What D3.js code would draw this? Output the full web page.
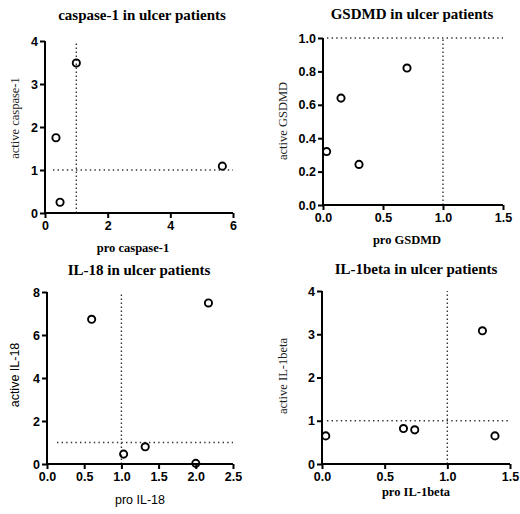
<!DOCTYPE html>
<html>
<head>
<meta charset="utf-8">
<script src="https://cdn.jsdelivr.net/npm/d3@7"></script>
<style>
    body { margin: 0; background: #fff; }
    .tick text { font-family: "Liberation Sans", Arial, sans-serif; font-weight: bold; font-size: 12.5px; fill: #000; }
</style>
</head>
<body>
<svg id="chart" width="520" height="514"></svg>
<script>

// Data (pro vs active levels)
var casProX = [0.35, 0.48, 1.0, 5.66];
var casActY = [1.75, 0.25, 3.49, 1.09];

var gsdmdProX = [0.03, 0.15, 0.30, 0.70];
var gsdmdActY = [0.32, 0.64, 0.243, 0.82];

var il18ProX = [0.60, 1.03, 1.32, 2.0, 2.17];
var il18ActY = [6.73, 0.46, 0.80, 0.03, 7.49];

var il1bProX = [0.03, 0.65, 0.74, 1.28, 1.38];
var il1bActY = [0.65, 0.82, 0.79, 3.08, 0.65];

var casXTicks = [0, 2, 4, 6], casYTicks = [0, 1, 2, 3, 4];
var gsdmdXTicks = [0, 0.5, 1.0, 1.5], gsdmdYTicks = [0, 0.2, 0.4, 0.6, 0.8, 1.0];
var il18XTicks = [0, 0.5, 1.0, 1.5, 2.0, 2.5], il18YTicks = [0, 2, 4, 6, 8];
var il1bXTicks = [0, 0.5, 1.0, 1.5], il1bYTicks = [0, 1, 2, 3, 4];

var titles = ["caspase-1 in ulcer patients", "GSDMD in ulcer patients",
              "IL-18 in ulcer patients", "IL-1beta in ulcer patients"];
var xLabels = ["pro caspase-1", "pro GSDMD", "pro IL-18", "pro IL-1beta"];
var yLabels = ["active caspase-1", "active GSDMD", "active IL-18", "active IL-1beta"];

var svg = d3.select("#chart");
var serif = "'Liberation Serif', 'Times New Roman', serif";
var sans = "'Liberation Sans', Arial, sans-serif";

function makePanel(p) {

    var x = d3.scaleLinear().domain(p.xDom).range([p.left, p.right]);
    var y = d3.scaleLinear().domain(p.yDom).range([p.bottom, p.top]);

    var g = svg.append("g");

    // Dotted reference lines at 1
    g.append("line")
        .attr("x1", x(1)).attr("x2", x(1))
        .attr("y1", y(p.yDom[0])).attr("y2", y(p.yDom[1]))
        .attr("stroke", "#333").attr("stroke-width", 1.4)
        .attr("stroke-dasharray", "1.4,2.6");

    g.append("line")
        .attr("x1", x(p.xDom[0]) + p.hStart).attr("x2", x(p.xDom[1]))
        .attr("y1", y(1)).attr("y2", y(1))
        .attr("stroke", "#333").attr("stroke-width", 1.4)
        .attr("stroke-dasharray", "1.4,3.2");

    // Axes
    var xAxis = d3.axisBottom(x).tickValues(p.xTicks).tickSize(5).tickPadding(3)
        .tickFormat(p.xFmt);
    var yAxis = d3.axisLeft(y).tickValues(p.yTicks).tickSize(5).tickPadding(2)
        .tickFormat(p.yFmt);

    g.append("g")
        .attr("transform", "translate(0," + p.bottom + ")")
        .call(xAxis)
        .call(function(s) {
            s.select(".domain").attr("stroke", "#000").attr("stroke-width", 2)
                .attr("d", "M" + (p.left - 1) + ",0H" + p.right);
            s.selectAll(".tick line").attr("stroke-width", 2);
        });

    g.append("g")
        .attr("transform", "translate(" + p.left + ",0)")
        .call(yAxis)
        .call(function(s) {
            s.select(".domain").attr("stroke", "#000").attr("stroke-width", 2)
                .attr("d", "M0," + (p.bottom + 1) + "V" + p.top);
            s.selectAll(".tick line").attr("stroke-width", 2);
        });

    // Points
    g.selectAll("circle")
        .data(p.xs)
        .enter()
        .append("circle")
        .attr("cx", function(d) { return x(d); })
        .attr("cy", function(d, i) { return y(p.ys[i]); })
        .attr("r", 3.6)
        .attr("fill", "none")
        .attr("stroke", "#000")
        .attr("stroke-width", 1.9);

    // Title and axis labels
    svg.append("text")
        .attr("x", p.titleX).attr("y", p.titleY)
        .attr("text-anchor", "middle")
        .style("font-family", serif).style("font-weight", "bold").style("font-size", "15px")
        .text(p.title);

    svg.append("text")
        .attr("x", p.xLabX).attr("y", p.xLabY)
        .attr("text-anchor", "middle")
        .style("font-family", p.sansLabels ? sans : serif)
        .style("font-weight", p.sansLabels ? "normal" : "bold")
        .style("font-size", p.sansLabels ? "12.5px" : "12.5px")
        .text(p.xLab);

    svg.append("text")
        .attr("transform", "translate(" + p.yLabX + "," + p.yLabY + ") rotate(-90)")
        .attr("text-anchor", "middle")
        .style("font-family", p.sansLabels ? sans : serif)
        .style("font-size", p.sansLabels ? "12.5px" : "12.5px")
        .attr("fill", p.sansLabels ? "#000" : "#222")
        .text(p.yLab);
}

var intFmt = d3.format("d"), oneFmt = d3.format(".1f");

makePanel({
    left: 45, right: 233, top: 41, bottom: 213,
    xDom: [0, 6], yDom: [0, 4], xTicks: casXTicks, yTicks: casYTicks,
    xFmt: intFmt, yFmt: intFmt, xs: casProX, ys: casActY, hStart: 8,
    title: titles[0], titleX: 142, titleY: 20,
    xLab: xLabels[0], xLabX: 133, xLabY: 252,
    yLab: yLabels[0], yLabX: 19, yLabY: 118
});

makePanel({
    left: 323, right: 503, top: 38, bottom: 205,
    xDom: [0, 1.5], yDom: [0, 1], xTicks: gsdmdXTicks, yTicks: gsdmdYTicks,
    xFmt: oneFmt, yFmt: oneFmt, xs: gsdmdProX, ys: gsdmdActY, hStart: 4,
    title: titles[1], titleX: 412, titleY: 19,
    xLab: xLabels[1], xLabX: 407, xLabY: 244,
    yLab: yLabels[1], yLabX: 287, yLabY: 121
});

makePanel({
    left: 47, right: 233, top: 292, bottom: 464,
    xDom: [0, 2.5], yDom: [0, 8], xTicks: il18XTicks, yTicks: il18YTicks,
    xFmt: oneFmt, yFmt: intFmt, xs: il18ProX, ys: il18ActY, hStart: 10,
    title: titles[2], titleX: 139, titleY: 275,
    xLab: xLabels[2], xLabX: 140, xLabY: 504, sansLabels: true,
    yLab: yLabels[2], yLabX: 19, yLabY: 375
});

makePanel({
    left: 322, right: 510, top: 291, bottom: 464,
    xDom: [0, 1.5], yDom: [0, 4], xTicks: il1bXTicks, yTicks: il1bYTicks,
    xFmt: oneFmt, yFmt: intFmt, xs: il1bProX, ys: il1bActY, hStart: 5,
    title: titles[3], titleX: 416, titleY: 274,
    xLab: xLabels[3], xLabX: 416, xLabY: 496,
    yLab: yLabels[3], yLabX: 287, yLabY: 376
});

</script>
</body>
</html>
